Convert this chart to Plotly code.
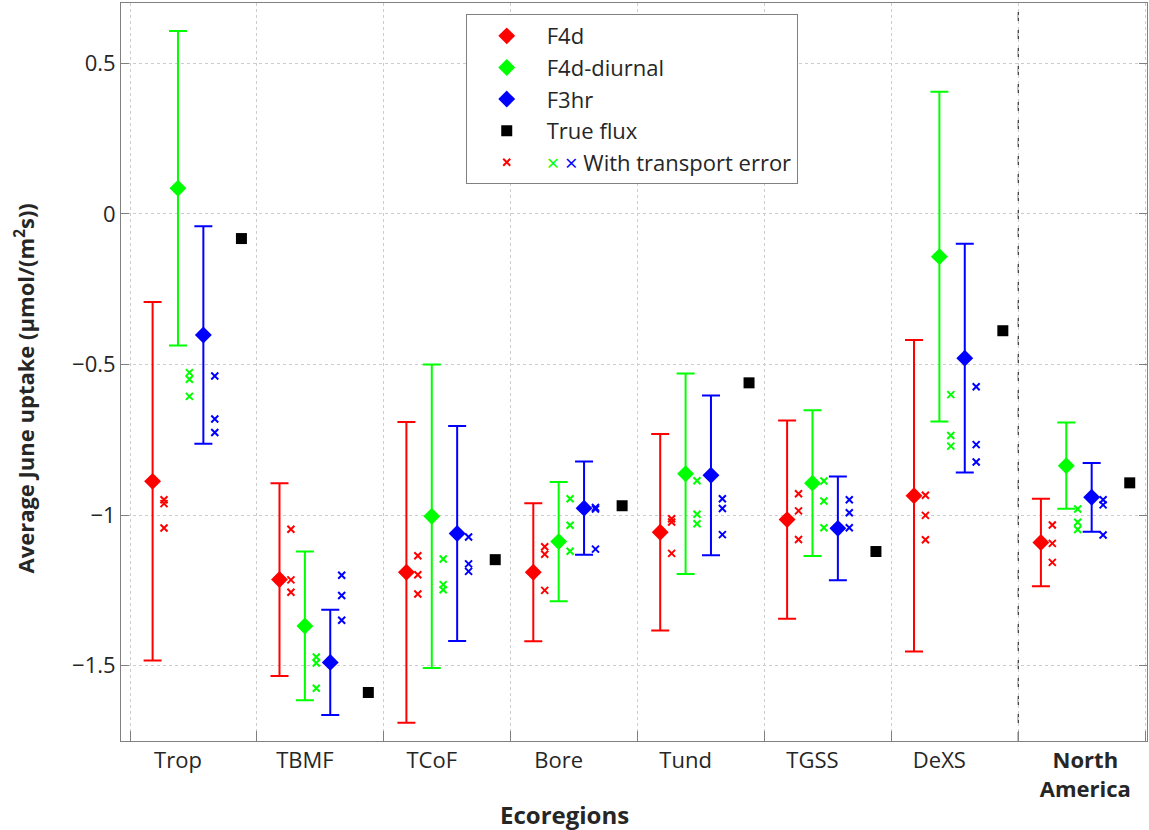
import plotly.graph_objects as go
import numpy as np

# ---------------- data ----------------
regions = ["Trop", "TBMF", "TCoF", "Bore", "Tund", "TGSS", "DeXS", "<b>North<br>America</b>"]

f4d_mean = [-0.888, -1.214, -1.190, -1.190, -1.057, -1.015, -0.936, -1.091]
f4d_err = [0.595, 0.320, 0.499, 0.229, 0.326, 0.329, 0.517, 0.145]

f4dd_mean = [0.085, -1.368, -1.004, -1.088, -0.863, -0.894, -0.142, -0.836]
f4dd_err = [0.522, 0.247, 0.504, 0.198, 0.333, 0.242, 0.547, 0.143]

f3hr_mean = [-0.402, -1.489, -1.061, -0.977, -0.868, -1.044, -0.479, -0.941]
f3hr_err = [0.361, 0.175, 0.357, 0.155, 0.265, 0.172, 0.380, 0.114]

true_flux = [-0.082, -1.589, -1.148, -0.969, -0.561, -1.121, -0.388, -0.893]

f4d_te = [[-0.949, -0.962, -1.043], [-1.047, -1.215, -1.256], [-1.135, -1.198, -1.262],
          [-1.105, -1.130, -1.250], [-1.012, -1.023, -1.127], [-0.929, -0.986, -1.081],
          [-0.934, -1.001, -1.082], [-1.033, -1.094, -1.157]]
f4dd_te = [[-0.527, -0.549, -0.606], [-1.471, -1.491, -1.575], [-1.146, -1.231, -1.248],
           [-0.946, -1.034, -1.120], [-0.886, -0.997, -1.029], [-0.887, -0.953, -1.042],
           [-0.600, -0.736, -0.771], [-0.980, -1.024, -1.048]]
f3hr_te = [[-0.538, -0.681, -0.726], [-1.200, -1.267, -1.349], [-1.073, -1.162, -1.187],
           [-0.975, -0.980, -1.113], [-0.946, -0.978, -1.065], [-0.949, -0.992, -1.042],
           [-0.574, -0.766, -0.824], [-0.949, -0.966, -1.066]]

yticks = [-1.5, -1, -0.5, 0, 0.5]

# ---------------- layout helpers ----------------
n = len(regions)
pos = np.arange(n, dtype=float)
bounds = np.arange(n + 1) - 0.378
label_pos = list(pos[:-1]) + [pos[-1] + 0.15]

RED, GREEN, BLUE = "#ff0000", "#00ff00", "#0000ff"
FONT = "Open Sans"
TXT = "#262626"

fig = go.Figure()


def main_trace(offset, mean, err, color, name):
    fig.add_trace(go.Scatter(
        x=pos + offset, y=mean, mode="markers", name=name,
        marker=dict(symbol="diamond", size=13, color=color),
        error_y=dict(type="data", array=err, symmetric=True, color=color,
                     thickness=2, width=9),
    ))


def te_trace(offset, vals, color, showlegend=False, name=None):
    xs, ys = [], []
    for i, group in enumerate(vals):
        for v in group:
            xs.append(pos[i] + offset)
            ys.append(v)
    fig.add_trace(go.Scatter(
        x=xs, y=ys, mode="markers", showlegend=showlegend, name=name,
        marker=dict(symbol="x-thin", size=7, color=color,
                    line=dict(color=color, width=2)),
    ))


main_trace(-0.2, f4d_mean, f4d_err, RED, "F4d")
main_trace(0.0, f4dd_mean, f4dd_err, GREEN, "F4d-diurnal")
main_trace(0.2, f3hr_mean, f3hr_err, BLUE, "F3hr")

fig.add_trace(go.Scatter(
    x=pos + 0.5, y=true_flux, mode="markers", name="True flux",
    marker=dict(symbol="square", size=11, color="black"),
))

te_trace(-0.11, f4d_te, RED, showlegend=True,
         name=f"<span style='color:{GREEN}'>×</span> <span style='color:{BLUE}'>×</span> With transport error")
te_trace(0.09, f4dd_te, GREEN)
te_trace(0.29, f3hr_te, BLUE)

# separator between ecoregions and North America
fig.add_shape(type="line", xref="x", yref="paper", x0=bounds[n - 1], x1=bounds[n - 1],
              y0=0, y1=1, line=dict(color="#404040", width=1.3, dash="dash"), layer="below")

AX = "#808080"
GRID = "#cccccc"

fig.update_layout(
    width=1149, height=830,
    margin=dict(l=121, r=2, t=3, b=89),
    paper_bgcolor="white", plot_bgcolor="white",
    font=dict(family=FONT, size=22, color=TXT),
    showlegend=True,
    legend=dict(
        x=0.336, y=0.985, xanchor="left", yanchor="top",
        bgcolor="white", bordercolor="#808080", borderwidth=1,
        font=dict(family=FONT, size=22, color=TXT),
        itemwidth=70,
    ),
    xaxis=dict(
        range=[-0.449, 7.636], tickmode="array", tickvals=label_pos, ticktext=regions,
        ticks="", showgrid=False, zeroline=False,
        showline=True, linecolor=AX, linewidth=1, mirror=True,
        tickfont=dict(family=FONT, size=22, color=TXT),
        minor=dict(tickmode="array", tickvals=list(bounds), ticks="inside", ticklen=10,
                   tickcolor=AX, showgrid=True, gridcolor=GRID, griddash="dot", gridwidth=1),
    ),
    yaxis=dict(
        range=[-1.75, 0.70], tickmode="array", tickvals=yticks,
        ticks="inside", ticklen=8, tickcolor=AX,
        showgrid=True, gridcolor=GRID, griddash="dot", gridwidth=1, zeroline=False,
        showline=True, linecolor=AX, linewidth=1, mirror="ticks",
        tickfont=dict(family=FONT, size=22, color=TXT),
        ticklabelstandoff=0,
    ),
    annotations=[
        dict(text="<b>Average June uptake (μmol/(m<sup>2</sup>s))</b>", textangle=-90,
             xref="paper", yref="paper", x=-0.094, y=0.477, xanchor="center", yanchor="middle",
             showarrow=False, font=dict(family=FONT, size=22, color=TXT)),
        dict(text="<b>Ecoregions</b>", xref="paper", yref="paper", x=0.432, y=-0.100,
             xanchor="center", yanchor="middle", showarrow=False,
             font=dict(family=FONT, size=24, color=TXT)),
    ],
)

fig.write_html("out.html", config={"displayModeBar": False},
               post_script="document.body.style.margin='0px';")
